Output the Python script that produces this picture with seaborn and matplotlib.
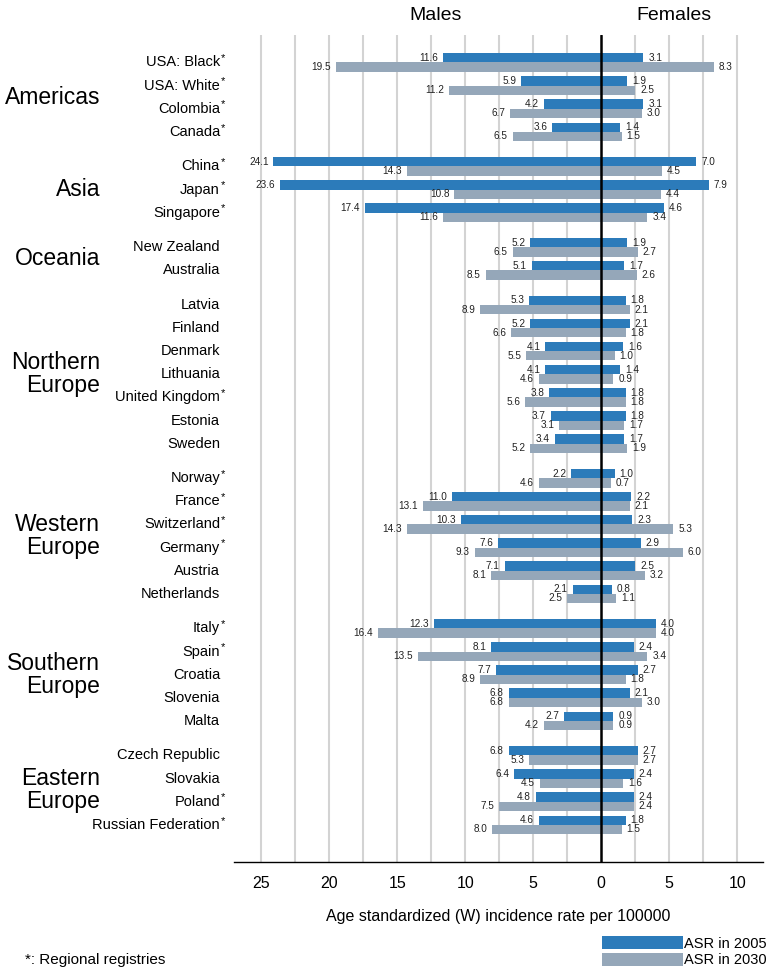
import numpy as np
import pandas as pd
import matplotlib
matplotlib.use("Agg")
import matplotlib.pyplot as plt
import matplotlib.transforms as mtransforms
import seaborn as sns

# data
regions = ["Americas", "Asia", "Oceania", "Northern\nEurope", "Western\nEurope",
           "Southern\nEurope", "Eastern\nEurope"]
region_sizes = [4, 3, 2, 7, 6, 5, 4]

countries = ["USA: Black", "USA: White", "Colombia", "Canada",
             "China", "Japan", "Singapore",
             "New Zealand", "Australia",
             "Latvia", "Finland", "Denmark", "Lithuania", "United Kingdom", "Estonia", "Sweden",
             "Norway", "France", "Switzerland", "Germany", "Austria", "Netherlands",
             "Italy", "Spain", "Croatia", "Slovenia", "Malta",
             "Czech Republic", "Slovakia", "Poland", "Russian Federation"]
regional = [1, 1, 1, 1,
            1, 1, 1,
            0, 0,
            0, 0, 0, 0, 1, 0, 0,
            1, 1, 1, 1, 0, 0,
            1, 1, 0, 0, 0,
            0, 0, 1, 1]

male_2005 = [11.6, 5.9, 4.2, 3.6, 24.1, 23.6, 17.4, 5.2, 5.1,
             5.3, 5.2, 4.1, 4.1, 3.8, 3.7, 3.4,
             2.2, 11.0, 10.3, 7.6, 7.1, 2.1,
             12.3, 8.1, 7.7, 6.8, 2.7,
             6.8, 6.4, 4.8, 4.6]
male_2030 = [19.5, 11.2, 6.7, 6.5, 14.3, 10.8, 11.6, 6.5, 8.5,
             8.9, 6.6, 5.5, 4.6, 5.6, 3.1, 5.2,
             4.6, 13.1, 14.3, 9.3, 8.1, 2.5,
             16.4, 13.5, 8.9, 6.8, 4.2,
             5.3, 4.5, 7.5, 8.0]
female_2005 = [3.1, 1.9, 3.1, 1.4, 7.0, 7.9, 4.6, 1.9, 1.7,
               1.8, 2.1, 1.6, 1.4, 1.8, 1.8, 1.7,
               1.0, 2.2, 2.3, 2.9, 2.5, 0.8,
               4.0, 2.4, 2.7, 2.1, 0.9,
               2.7, 2.4, 2.4, 1.8]
female_2030 = [8.3, 2.5, 3.0, 1.5, 4.5, 4.4, 3.4, 2.7, 2.6,
               2.1, 1.8, 1.0, 0.9, 1.8, 1.7, 1.9,
               0.7, 2.1, 5.3, 6.0, 3.2, 1.1,
               4.0, 3.4, 1.8, 3.0, 0.9,
               2.7, 1.6, 2.4, 1.5]

years = ["ASR in 2005", "ASR in 2030"]
colors = {"ASR in 2005": "#2c7bba", "ASR in 2030": "#95a7b9"}

# row positions: one unit per country, extra half unit between regions
group_idx = np.repeat(np.arange(len(regions)), region_sizes)
pos = np.arange(len(countries)) + 0.5 * group_idx

df = pd.DataFrame({
    "country": countries * 2,
    "pos": np.concatenate([pos, pos]),
    "year": np.repeat(years, len(countries)),
    "male": male_2005 + male_2030,
    "female": female_2005 + female_2030,
})
df["male_neg"] = -df["male"]

sns.set_style("white")
plt.rcParams["font.family"] = ["Liberation Sans", "DejaVu Sans"]
plt.rcParams["text.color"] = "black"
plt.rcParams["axes.labelcolor"] = "black"
plt.rcParams["xtick.color"] = "black"

fig, ax = plt.subplots(figsize=(7.7, 9.75), dpi=100)
fig.subplots_adjust(left=234 / 770, right=763 / 770, bottom=(975 - 861.7) / 975, top=(975 - 35) / 975)

sns.barplot(data=df, x="male_neg", y="pos", hue="year", hue_order=years, orient="y",
            native_scale=True, palette=colors, saturation=1, errorbar=None,
            width=0.8, linewidth=0, ax=ax, zorder=2)
handles, labels = ax.get_legend_handles_labels()
ax.get_legend().remove()
sns.barplot(data=df, x="female", y="pos", hue="year", hue_order=years, orient="y",
            native_scale=True, palette=colors, saturation=1, errorbar=None,
            width=0.8, linewidth=0, ax=ax, legend=False, zorder=2)

# value labels
for _, r in df.iterrows():
    yy = r["pos"] + (-0.2 if r["year"] == years[0] else 0.2)
    ax.annotate(f"{r['male']:.1f}", (-r["male"], yy), xytext=(-3.5, 0), textcoords="offset points",
                ha="right", va="center", fontsize=7.2, color="#222222")
    ax.annotate(f"{r['female']:.1f}", (r["female"], yy), xytext=(3.5, 0), textcoords="offset points",
                ha="left", va="center", fontsize=7.2, color="#222222")

ax.set_xlim(-27.0, 11.9)
ax.set_ylim(pos.max() + 1.6, -1.19)
ax.set_yticks([])
ax.set_ylabel("")

ticks = np.arange(-25, 10.1, 2.5)
ax.set_xticks(ticks)
ax.set_xticklabels([f"{abs(int(t))}" if t % 5 == 0 else "" for t in ticks], fontsize=11.5)
ax.tick_params(axis="x", direction="out", length=4, width=1, color="black", pad=6)
for t in ticks:
    if t != 0:
        ax.axvline(t, color="#d3d3d3", lw=1.5, zorder=0)
ax.axvline(0, color="black", lw=1.8, zorder=4)

for s in ["top", "left", "right"]:
    ax.spines[s].set_visible(False)
ax.spines["bottom"].set_color("black")
ax.spines["bottom"].set_linewidth(1)
ax.set_xlabel("Age standardized (W) incidence rate per 100000", fontsize=11.5, labelpad=13)

# country labels (asterisk as superscript)
trans = mtransforms.blended_transform_factory(fig.transFigure, ax.transData)
name_x = 220 / 770
for name, p, star in zip(countries, pos, regional):
    ax.text(name_x, p, name, transform=trans, ha="right", va="center", fontsize=10.5)
    if star:
        ax.text(name_x + 0.001, p - 0.18, "*", transform=trans, ha="left", va="center", fontsize=8)

# region labels
start = 0
for reg, n in zip(regions, region_sizes):
    center = pos[start:start + n].mean()
    ax.text(100 / 770, center, reg, transform=trans, ha="right", va="center",
            fontsize=16.5, linespacing=1.0)
    start += n

fig.text(436 / 770, (975 - 15) / 975, "Males", ha="center", va="center", fontsize=14)
fig.text(674 / 770, (975 - 15) / 975, "Females", ha="center", va="center", fontsize=14)
fig.text(25 / 770, (975 - 960) / 975, "*: Regional registries", ha="left", va="center", fontsize=11)

fig.legend(handles, labels, loc="upper right", bbox_to_anchor=(767 / 770, (975 - 936) / 975),
           frameon=False, handlelength=5.5, handleheight=1.0, handletextpad=0.12,
           labelspacing=0.15, borderpad=0, borderaxespad=0, fontsize=10.5)

fig.savefig("out.png", dpi=100)
